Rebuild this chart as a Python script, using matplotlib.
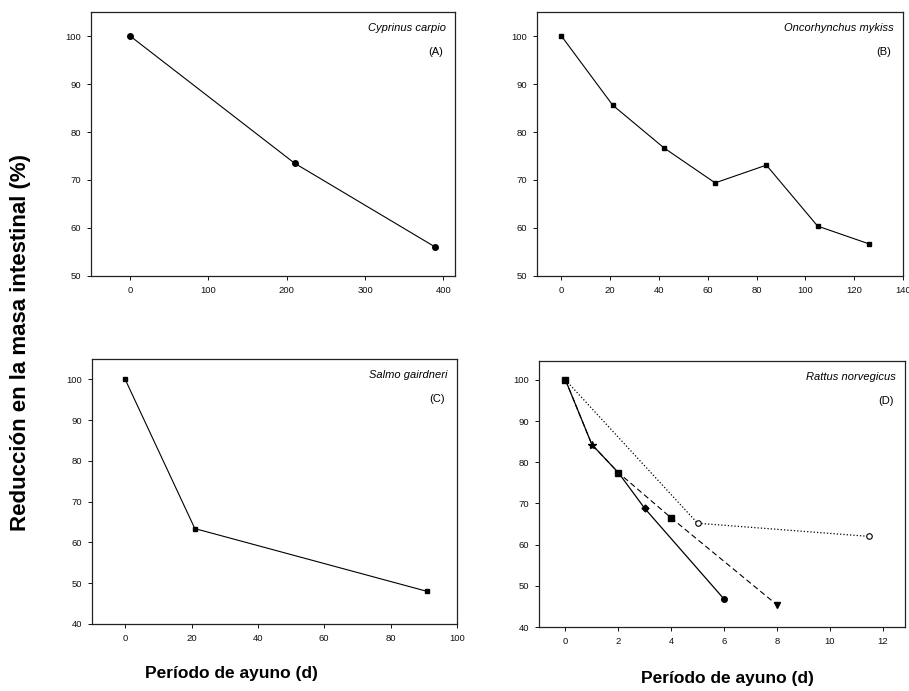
import matplotlib
matplotlib.use("Agg")
import matplotlib.pyplot as plt

plt.rcParams['font.family'] = ['Liberation Sans', 'DejaVu Sans']

# --- data ---
carpio_x = [0, 210, 390]
carpio_y = [100, 73.5, 56]

mykiss_x = [0, 21, 42, 63, 84, 105, 126]
mykiss_y = [100, 85.6, 76.7, 69.4, 73.1, 60.4, 56.7]

gairdneri_x = [0, 21, 91]
gairdneri_y = [100, 63.4, 48]

rattus_solid_x = [0, 1, 2, 3, 6]
rattus_solid_y = [100, 84.3, 77.5, 68.8, 46.8]
rattus_dash_x = [0, 1, 2, 4, 8]
rattus_dash_y = [100, 84.3, 77.5, 66.5, 45.4]
rattus_dot_x = [0, 5, 11.5]
rattus_dot_y = [100, 65.2, 62]

fig = plt.figure(figsize=(9.09, 6.91), dpi=100)

axA = fig.add_axes([0.1001, 0.6006, 0.4005, 0.382])
axB = fig.add_axes([0.5908, 0.6006, 0.4026, 0.382])
axC = fig.add_axes([0.1012, 0.0970, 0.4015, 0.3835])
axD = fig.add_axes([0.5930, 0.0926, 0.4026, 0.385])


def style(ax, xlim, xticks, ylim, yticks):
    ax.set_xlim(*xlim)
    ax.set_ylim(*ylim)
    ax.set_xticks(xticks)
    ax.set_yticks(yticks)
    ax.tick_params(direction='out', length=3, width=0.7, labelsize=6.8,
                   colors='#111111', pad=4)
    for s in ax.spines.values():
        s.set_linewidth(0.9)
        s.set_color('#222222')


def label(ax, species, letter):
    ax.text(0.975, 0.94, species, transform=ax.transAxes, ha='right', va='center',
            fontsize=8, style='italic')
    ax.text(0.968, 0.85, letter, transform=ax.transAxes, ha='right', va='center',
            fontsize=8)


# (A)
axA.plot(carpio_x, carpio_y, '-', color='black', lw=0.8, marker='o', ms=4)
style(axA, (-50, 415), [0, 100, 200, 300, 400], (50, 105), range(50, 101, 10))
label(axA, 'Cyprinus carpio', '(A)')

# (B)
axB.plot(mykiss_x, mykiss_y, '-', color='black', lw=0.8, marker='s', ms=3.5)
style(axB, (-10, 140), range(0, 141, 20), (50, 105), range(50, 101, 10))
label(axB, 'Oncorhynchus mykiss', '(B)')

# (C)
axC.plot(gairdneri_x, gairdneri_y, '-', color='black', lw=0.8, marker='s', ms=3.5)
style(axC, (-10, 100), range(0, 101, 20), (40, 105), range(40, 101, 10))
label(axC, 'Salmo gairdneri', '(C)')

# (D)
axD.plot(rattus_solid_x, rattus_solid_y, '-', color='black', lw=0.9)
axD.plot(rattus_dash_x, rattus_dash_y, '--', color='black', lw=0.8,
         dashes=(5, 3))
axD.plot(rattus_dot_x, rattus_dot_y, ':', color='black', lw=0.9)
axD.plot(rattus_solid_x[1:2], rattus_solid_y[1:2], ls='none', marker='*', ms=6,
         color='black')
axD.plot([rattus_solid_x[0]], [rattus_solid_y[0]], ls='none', marker='s', ms=4,
         color='black')
axD.plot([rattus_solid_x[2]], [rattus_solid_y[2]], ls='none', marker='s', ms=4,
         color='black')
axD.plot([rattus_solid_x[3]], [rattus_solid_y[3]], ls='none', marker='D', ms=3.5,
         color='black')
axD.plot([rattus_solid_x[4]], [rattus_solid_y[4]], ls='none', marker='o', ms=4,
         color='black')
axD.plot([rattus_dash_x[3]], [rattus_dash_y[3]], ls='none', marker='s', ms=4,
         color='black')
axD.plot([rattus_dash_x[4]], [rattus_dash_y[4]], ls='none', marker='v', ms=4,
         color='black')
axD.plot(rattus_dot_x[1:], rattus_dot_y[1:], ls='none', marker='o', ms=4,
         mfc='white', mec='black', mew=0.8)
style(axD, (-1.0, 12.85), range(0, 13, 2), (40, 104.6), range(40, 101, 10))
label(axD, 'Rattus norvegicus', '(D)')

fig.text(0.023, 0.505, 'Reducción en la masa intestinal (%)', rotation=90,
         ha='center', va='center', fontsize=16, fontweight='bold')
fig.text(0.255, 0.025, 'Período de ayuno (d)', ha='center', va='center',
         fontsize=12.5, fontweight='bold')
fig.text(0.80, 0.018, 'Período de ayuno (d)', ha='center', va='center',
         fontsize=12.5, fontweight='bold')

fig.savefig('out.png', dpi=100, facecolor='white')
